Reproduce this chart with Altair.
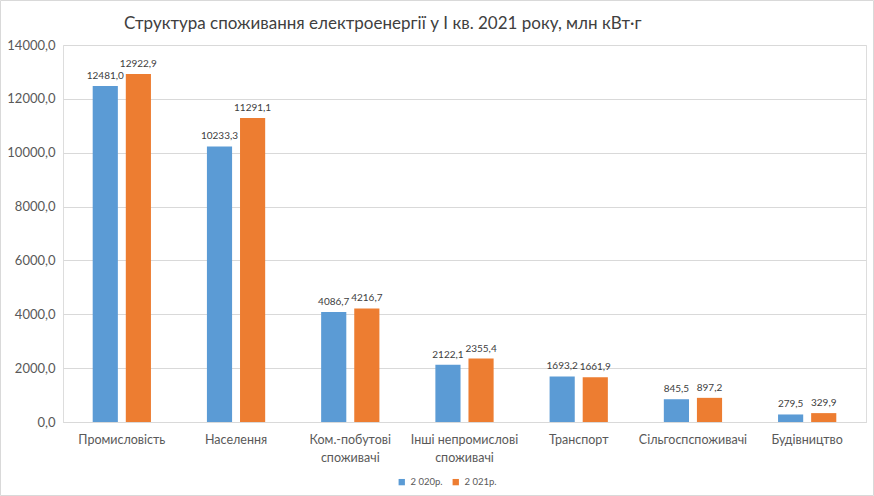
import altair as alt
import pandas as pd

categories = ["Промисловість", "Населення", "Ком.-побутові\nспоживачі", "Інші непромислові\nспоживачі",
              "Транспорт", "Сільгоспспоживачі", "Будівництво"]
series = ["2 020р.", "2 021р."]
values_2020 = [12481.0, 10233.3, 4086.7, 2122.1, 1693.2, 845.5, 279.5]
values_2021 = [12922.9, 11291.1, 4216.7, 2355.4, 1661.9, 897.2, 329.9]
y_ticks = [0, 2000, 4000, 6000, 8000, 10000, 12000, 14000]
title_text = "Структура споживання електроенергії у І кв. 2021 року, млн кВт·г"

rows = []
for c, a, b in zip(categories, values_2020, values_2021):
    rows.append({"cat": c, "series": series[0], "value": a})
    rows.append({"cat": c, "series": series[1], "value": b})
df = pd.DataFrame(rows)

FONT = "Lato"

base = alt.Chart(df).encode(
    x=alt.X("cat:N", sort=categories, title=None,
            scale=alt.Scale(paddingInner=0.49, paddingOuter=0.26),
            axis=alt.Axis(labelExpr="split(datum.value, '\\n')", labelAngle=0,
                          labelFontSize=12.5, labelColor="#595959", labelFont=FONT,
                          labelLineHeight=18, labelPadding=11, ticks=False,
                          domainColor="#d9d9d9", labelBaseline="top")),
    xOffset=alt.XOffset("series:N", sort=series, scale=alt.Scale(paddingInner=0.24)),
    y=alt.Y("value:Q", title=None,
            scale=alt.Scale(domain=[0, 14000], nice=False),
            axis=alt.Axis(values=y_ticks, labelExpr="replace(format(datum.value, '.1f'), '.', ',')",
                          labelFontSize=13, labelColor="#595959", labelFont=FONT,
                          labelPadding=8, ticks=False, domain=False,
                          gridColor="#d9d9d9")),
)

bars = base.mark_bar().encode(
    color=alt.Color("series:N", sort=series,
                    scale=alt.Scale(domain=series, range=["#5B9BD5", "#ED7D31"]),
                    legend=alt.Legend(title=None, orient="none", direction="horizontal",
                                      legendX=334, legendY=432,
                                      symbolType="square", symbolSize=40,
                                      labelFontSize=9.5, labelColor="#595959", labelFont=FONT,
                                      columnPadding=8, symbolOffset=0))
)

labels = base.mark_text(baseline="bottom", dy=-5, fontSize=10, color="#404040", font=FONT).encode(
    text=alt.Text("label:N")
).transform_calculate(label="replace(format(datum.value, '.1f'), '.', ',')")

title_layer = alt.Chart(pd.DataFrame({"t": [title_text]})).mark_text(
    fontSize=17, font=FONT, color="#404040", align="left", baseline="middle"
).encode(text="t:N", x=alt.value(61), y=alt.value(-21))

border = alt.Chart(pd.DataFrame({"t": [0]})).mark_rect(
    fill=None, stroke="#d9d9d9", strokeWidth=1
).encode(x=alt.value(-62.5), x2=alt.value(810.5), y=alt.value(-44.5), y2=alt.value(450.5))

chart = alt.layer(border, bars, labels, title_layer).properties(
    width=803, height=377,
    padding={"left": 63, "top": 45, "right": 8, "bottom": 74},
    autosize=alt.AutoSizeParams(type="none"),
).configure_view(stroke=None).configure(background="white")

chart.save("out.html", embed_options={"renderer": "svg", "actions": False})
